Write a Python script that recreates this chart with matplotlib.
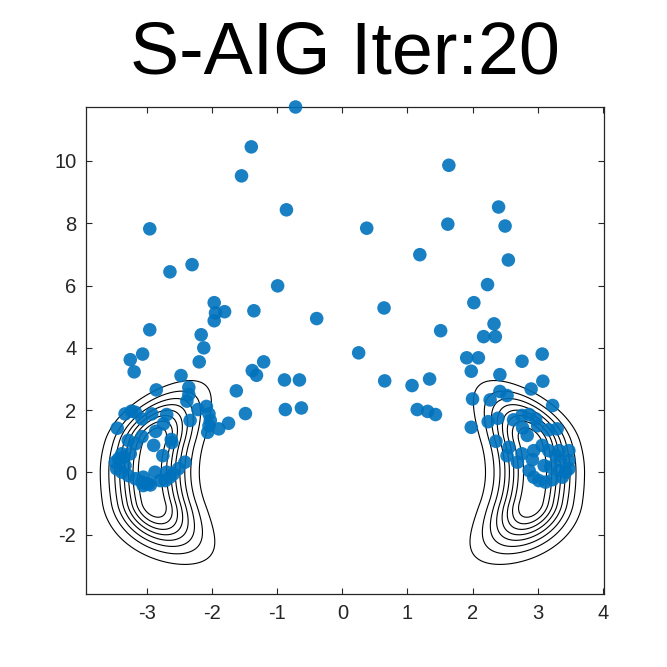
import numpy as np
import matplotlib
matplotlib.use("Agg")
import matplotlib.pyplot as plt

plt.rcParams['font.family'] = ['Liberation Sans', 'DejaVu Sans']

# ---- data: particle positions ----
px = [
    -0.72, -1.40, -1.55, -0.86, -2.96, -2.31, -2.65, -0.995, -1.97, -1.95, -1.81, -1.97, -1.36, -0.395, -2.96, -2.17,
    -3.26, -3.07, -3.20, -2.13, -2.20, -2.48, -1.21, -1.385, -1.32, -1.63, -0.89, -0.66, -0.877, -0.63, -1.49, -1.75,
    -1.90, -2.05, -2.03, -2.07, -2.09, -2.05, -2.22, -2.36, -2.36, -2.39, -2.34, -2.86,
    -3.46, -3.34, -3.24, -3.18, -3.08, -2.93, -2.70, -2.75, -2.87, -3.08, -3.29, -3.18, -2.63, -2.90, -2.76, -3.44,
    -3.36, -3.49, -3.47, -3.39, -3.29, -3.18, -3.08, -3.01, -3.06, -2.88, -2.80, -2.70, -2.65, -2.52, -2.42, -2.72,
    -3.34, -3.26, -3.39, -2.62, -3.06, -2.98, -2.95, -2.60,
    0.25, 0.65, 1.07, 1.34, 1.15, 1.31, 1.43, 1.91, 2.09, 1.98, 2.76, 3.07, 2.42, 3.08, 2.90, 3.23, 2.00, 2.27, 2.42,
    2.53, 1.98, 2.24, 2.39, 2.36, 2.63, 2.76, 2.87, 2.97, 3.00, 2.77, 2.84, 3.17, 3.30, 2.56, 2.53, 2.69, 2.76, 2.94,
    3.07, 3.17, 3.33, 3.48, 2.92, 3.35, 3.48, 3.20, 3.33, 3.48, 2.87, 2.94, 3.02, 3.12, 3.23, 3.38, 3.43, 3.10, 3.28,
    1.636, 2.40, 0.374, 1.62, 2.50, 1.19, 2.55, 2.23, 2.02, 0.64, 1.51, 2.33, 2.17, 2.35,
]
py = [
    11.73, 10.45, 9.52, 8.43, 7.82, 6.67, 6.44, 5.99, 5.45, 5.12, 5.16, 4.87, 5.19, 4.94, 4.58, 4.42,
    3.62, 3.80, 3.23, 4.00, 3.55, 3.11, 3.55, 3.27, 3.12, 2.62, 2.97, 2.97, 2.02, 2.07, 1.89, 1.58,
    1.40, 1.50, 1.67, 1.29, 2.12, 1.88, 2.02, 2.73, 2.50, 2.29, 1.67, 2.65,
    1.42, 1.88, 1.97, 1.93, 1.72, 1.88, 1.86, 1.56, 1.32, 1.15, 1.03, 0.92, 1.06, 0.87, 0.54, 0.44,
    0.49, 0.33, 0.12, 0.01, -0.10, -0.20, -0.31, -0.36, -0.15, 0.01, -0.26, 0.01, -0.15, 0.12, 0.33, -0.26,
    0.22, 0.60, 0.60, 0.96, -0.42, -0.36, -0.40, -0.05,
    3.84, 2.94, 2.79, 3.00, 2.02, 1.96, 1.86, 3.68, 3.68, 3.25, 3.57, 3.80, 3.14, 2.93, 2.68, 2.15, 2.36, 2.33, 2.60,
    2.47, 1.45, 1.63, 1.74, 1.00, 1.69, 1.83, 1.86, 1.72, 1.50, 1.43, 1.19, 1.37, 1.40, 0.81, 0.54, 0.33, 0.60, 0.70,
    0.87, 0.70, 0.70, 0.70, 0.41, 0.38, 0.38, 0.17, 0.06, 0.12, 0.06, -0.15, -0.26, -0.31, -0.23, -0.15, 0.01, 0.22, 0.54,
    9.86, 8.52, 7.84, 7.97, 7.91, 6.99, 6.82, 6.03, 5.45, 5.28, 4.55, 4.77, 4.36, 4.36,
]

# ---- target density (two mirrored bananas) parameters ----
ridge_x = 2.96      # ridge position at y = 0
ridge_k_up = 0.072  # ridge curvature above y = 0
ridge_k_dn = 0.062  # ridge curvature below y = 0
sigma_x = 0.363     # cross-ridge width at y = 0
sigma_c_up = 0.0    # widening of the cross-ridge width (upper half)
sigma_c_dn = 0.035  # widening of the cross-ridge width (lower half)
core_len = 0.98     # half length of the flat core along the ridge
sigma_y = 0.94      # fall-off length beyond the core
n_levels = 8

title_text = "S-AIG Iter:20"
xticks = [-3, -2, -1, 0, 1, 2, 3, 4]
yticks = [-2, 0, 2, 4, 6, 8, 10]

gx = np.linspace(-4, 4, 600)
gy = np.linspace(-4, 4, 600)
X, Y = np.meshgrid(gx, gy)
up = Y > 0
k = np.where(up, ridge_k_up, ridge_k_dn)
c = np.where(up, sigma_c_up, sigma_c_dn)
sig = sigma_x * (1 + c * Y ** 2)
v = np.clip(np.abs(Y) - core_len, 0, None) / sigma_y
P = np.zeros_like(X)
for s in (-1, 1):
    u = (X - s * (ridge_x - k * Y ** 2)) / sig
    P += np.exp(-0.5 * (u ** 2 + v ** 2))
levels = np.arange(1, n_levels + 1) / (n_levels + 1) * P.max()

fig = plt.figure(figsize=(6.67, 6.67), dpi=100)
ax = fig.add_axes([86 / 667, 1 - 594 / 667, 518 / 667, 487 / 667])
ax.contour(X, Y, P, levels=levels, colors='k', linewidths=0.8)
ax.scatter(px, py, s=95, color='#0072BD', alpha=0.9, edgecolors='none', zorder=3, clip_on=False)

ax.set_xlim(-3.94, 4.02)
ax.set_ylim(-3.9, 11.73)
ax.set_xticks(xticks)
ax.set_yticks(yticks)
ax.set_xticklabels([str(t) for t in xticks])
ax.set_yticklabels([str(t) for t in yticks])
axc = '#262626'
for sp in ax.spines.values():
    sp.set_color(axc)
    sp.set_linewidth(0.9)
ax.tick_params(direction='in', length=4, width=0.8, colors=axc, labelsize=14.5,
               top=True, right=True, pad=7)
ax.set_title(title_text, fontsize=53, pad=24, color='k')

fig.savefig('out.png', dpi=100)
